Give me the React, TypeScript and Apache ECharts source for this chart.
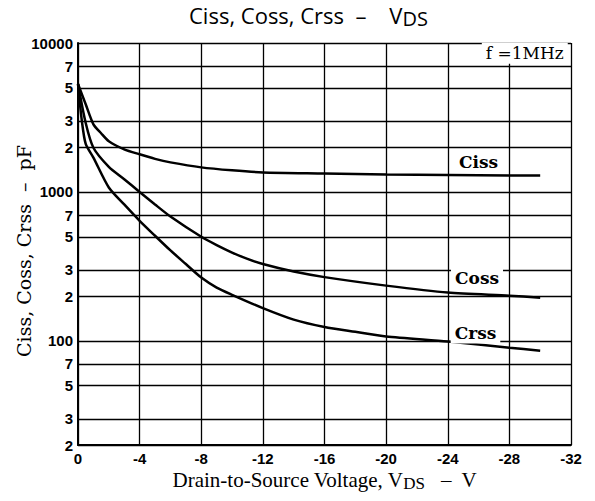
import React, { useEffect, useRef } from "react";
import * as echarts from "echarts";

const cissV = [0, -0.5, -1, -1.5, -2, -3, -4, -5, -6, -8, -10, -12, -16, -20, -24, -28, -30];
const cissC = [5300, 3880, 2845, 2478, 2190, 1934, 1790, 1668, 1580, 1462, 1396, 1352, 1332, 1312, 1300, 1290, 1290];

const cossV = [0, -0.5, -1, -2, -3, -4, -5, -6, -8, -9, -10, -11, -12, -14, -16, -20, -24, -28, -30];
const cossC = [5300, 2900, 1980, 1475, 1218, 1000, 824, 684, 500, 440, 392, 355, 328, 292, 268, 235, 211, 201, 195];

const crssV = [0, -0.25, -0.5, -1, -2, -3, -4, -5, -6, -7, -8, -9, -10, -12, -14, -16, -18, -20, -24, -28, -30];
const crssC = [5300, 3000, 2100, 1700, 1072, 824, 640, 508, 405, 328, 266, 228, 204, 166, 139, 124, 115, 107, 99, 90, 86];

const yTicks = [20, 30, 50, 70, 100, 200, 300, 500, 700, 1000, 2000, 3000, 5000, 7000, 10000];

// annotation labels: [V, C, text]
const seriesLabels: [number, number, string][] = [
  [-26, 1600, "Ciss"],
  [-25.9, 266, "Coss"],
  [-25.8, 113, "Crss"],
];
const freqLabel: [number, number, string] = [-29, 8550, "f =1MHz"];

const toPts = (v: number[], c: number[]) => v.map((x, i) => [x, Math.log10(c[i])]);

export default function App() {
  const ref = useRef<HTMLDivElement>(null);
  useEffect(() => {
    if (!ref.current) return;
    const chart = echarts.init(ref.current, null, { renderer: "svg" });
    const labelStyle = {
      show: true,
      color: "#000",
      fontFamily: "DejaVu Serif",
      backgroundColor: "#fff",
      padding: [2, 4],
    };
    const mk = (lbl: [number, number, string], bold: boolean) => ({
      coord: [lbl[0], Math.log10(lbl[1])],
      label: {
        ...labelStyle,
        position: "inside",
        formatter: lbl[2],
        fontSize: 17,
        fontWeight: bold ? "bold" : "normal",
      },
    });
    const lineSeries = (name: string, v: number[], c: number[], lbl: [number, number, string], extra?: [number, number, string]) => ({
      name,
      type: "line",
      data: toPts(v, c),
      showSymbol: false,
      smooth: 0.25,
      lineStyle: { color: "#000", width: 2.5 },
      z: 3,
      markPoint: {
        symbol: "circle",
        symbolSize: 0,
        silent: true,
        data: extra ? [mk(lbl, true), mk(extra, false)] : [mk(lbl, true)],
      },
    });
    chart.setOption({
      animation: false,
      backgroundColor: "#fff",
      title: {
        left: 189,
        top: 2,
        padding: 0,
        text: "{a|Ciss, Coss, Crss  –    V}{s|DS}",
        textStyle: {
          rich: {
            a: { fontFamily: "Open Sans", fontSize: 22, fontWeight: "normal", color: "#000", lineHeight: 26 },
            s: { fontFamily: "Open Sans", fontSize: 20, fontWeight: "normal", color: "#000", lineHeight: 26, verticalAlign: "bottom" },
          },
        },
      },
      grid: { left: 78, right: 24, top: 43, bottom: 56, outerBoundsMode: "none", containLabel: false },
      xAxis: {
        type: "value",
        min: -32,
        max: 0,
        interval: 4,
        inverse: true,
        name: "{a|Drain-to-Source Voltage, V}{s|DS}{a|   –  V}",
        nameLocation: "middle",
        nameGap: 23,
        nameMoveOverlap: false,
        nameTextStyle: {
          rich: {
            a: { fontFamily: "Liberation Serif", fontSize: 21, color: "#000", lineHeight: 24 },
            s: { fontFamily: "Liberation Serif", fontSize: 17, color: "#000", lineHeight: 24, verticalAlign: "bottom" },
          },
        },
        axisLine: { show: true, lineStyle: { color: "#000", width: 2 } },
        axisTick: { show: false },
        axisLabel: {
          color: "#000",
          fontFamily: "Liberation Sans",
          fontSize: 15,
          fontWeight: "bold",
          margin: 6,
        },
        splitLine: { show: true, lineStyle: { color: "#000", width: 1.3 } },
      },
      yAxis: {
        type: "value",
        min: Math.log10(20),
        max: 4,
        name: "Ciss, Coss, Crss  –  pF",
        nameLocation: "middle",
        nameGap: 45,
        nameMoveOverlap: false,
        nameTextStyle: { fontFamily: "DejaVu Serif", fontSize: 19, color: "#000", padding: [0, 14, 0, 0] },
        axisLine: { show: true, lineStyle: { color: "#000", width: 2 } },
        axisTick: { show: false, customValues: yTicks.map((t) => Math.log10(t)) },
        axisLabel: {
          customValues: yTicks.map((t) => Math.log10(t)),
          color: "#000",
          fontFamily: "Liberation Sans",
          fontSize: 15,
          fontWeight: "bold",
          margin: 5,
          formatter: (v: number) => {
            const n = Math.round(Math.pow(10, v));
            const s = String(n);
            return /^10*$/.test(s) ? s : s[0];
          },
        },
        splitLine: { show: true, lineStyle: { color: "#000", width: 1.3 } },
      },
      series: [
        lineSeries("Ciss", cissV, cissC, seriesLabels[0], freqLabel),
        lineSeries("Coss", cossV, cossC, seriesLabels[1]),
        lineSeries("Crss", crssV, crssC, seriesLabels[2]),
      ],
    });
    return () => chart.dispose();
  }, []);
  return <div ref={ref} style={{ position: "fixed", left: 0, top: 0, width: 595, height: 501 }} />;
}
